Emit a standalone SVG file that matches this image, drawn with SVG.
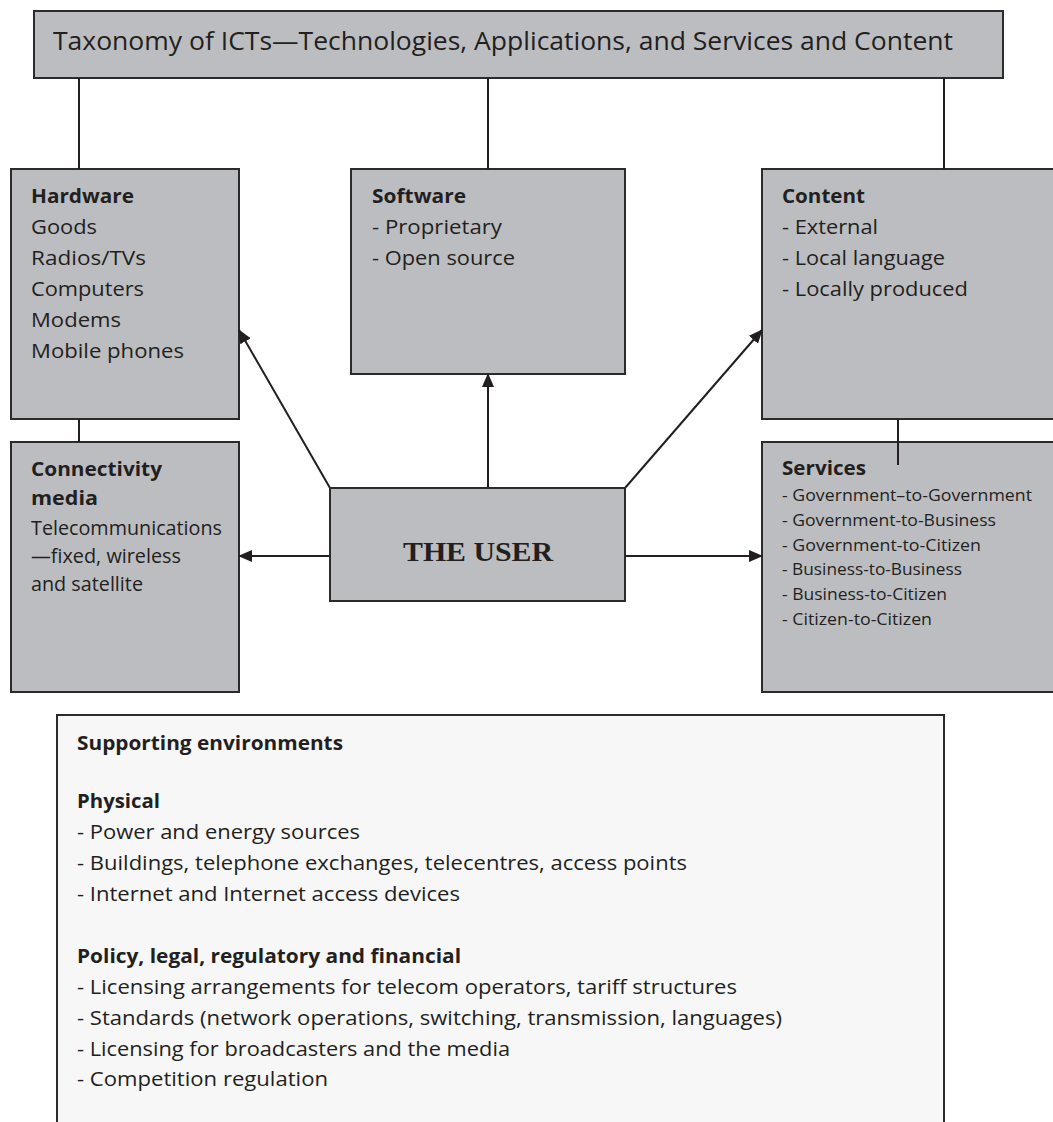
<svg xmlns="http://www.w3.org/2000/svg" width="1053" height="1122" viewBox="0 0 1053 1122">
<style>
.box{fill:#bcbdc0;stroke:#2b2b2b;stroke-width:2}
.env{fill:#f7f7f7;stroke:#2b2b2b;stroke-width:2}
.t{font-family:"Open Sans","Liberation Sans",sans-serif;font-size:20px;fill:#231f20}
.b{font-weight:bold}
.s{font-size:15.5px}
.u{font-family:"Liberation Serif",serif;font-size:28px;font-weight:bold;fill:#231f20}
.ln{stroke:#231f20;stroke-width:2;fill:none}
.ar{stroke:#231f20;stroke-width:2;fill:none;marker-end:url(#ah)}
</style>
<defs>
<marker id="ah" viewBox="0 0 14 12" refX="13" refY="6" markerWidth="14" markerHeight="12" markerUnits="userSpaceOnUse" orient="auto">
<path d="M0,0 L14,6 L0,12 z" fill="#231f20"/>
</marker>
</defs>
<g id="title">
<rect class="box" x="34" y="11" width="969" height="67"/>
<text class="t" x="53" y="50" style="font-size:26px" textLength="900" lengthAdjust="spacingAndGlyphs">Taxonomy of ICTs—Technologies, Applications, and Services and Content</text>
</g>
<g id="hardware">
<rect class="box" x="11" y="169" width="228" height="250"/>
<text class="t b" x="31" y="203" textLength="103" lengthAdjust="spacingAndGlyphs">Hardware</text>
<text class="t" x="31" y="234" textLength="66" lengthAdjust="spacingAndGlyphs">Goods</text>
<text class="t" x="31" y="265" textLength="115" lengthAdjust="spacingAndGlyphs">Radios/TVs</text>
<text class="t" x="31" y="296" textLength="113" lengthAdjust="spacingAndGlyphs">Computers</text>
<text class="t" x="31" y="327" textLength="90" lengthAdjust="spacingAndGlyphs">Modems</text>
<text class="t" x="31" y="358" textLength="153" lengthAdjust="spacingAndGlyphs">Mobile phones</text>
</g>
<g id="software">
<rect class="box" x="351" y="169" width="274" height="205"/>
<text class="t b" x="372" y="203" textLength="94" lengthAdjust="spacingAndGlyphs">Software</text>
<text class="t" x="372" y="234" textLength="130" lengthAdjust="spacingAndGlyphs">- Proprietary</text>
<text class="t" x="372" y="265" textLength="143" lengthAdjust="spacingAndGlyphs">- Open source</text>
</g>
<g id="content">
<rect class="box" x="762" y="169" width="300" height="250"/>
<text class="t b" x="782" y="203" textLength="83" lengthAdjust="spacingAndGlyphs">Content</text>
<text class="t" x="782" y="234" textLength="96" lengthAdjust="spacingAndGlyphs">- External</text>
<text class="t" x="782" y="265" textLength="163" lengthAdjust="spacingAndGlyphs">- Local language</text>
<text class="t" x="782" y="296" textLength="186" lengthAdjust="spacingAndGlyphs">- Locally produced</text>
</g>
<g id="connectivity">
<rect class="box" x="11" y="442" width="228" height="250"/>
<text class="t b" x="31" y="476" textLength="131" lengthAdjust="spacingAndGlyphs">Connectivity</text>
<text class="t b" x="31" y="505" textLength="67" lengthAdjust="spacingAndGlyphs">media</text>
<text class="t" x="31" y="535" textLength="191" lengthAdjust="spacingAndGlyphs">Telecommunications</text>
<text class="t" x="31" y="563" textLength="150" lengthAdjust="spacingAndGlyphs">—fixed, wireless</text>
<text class="t" x="31" y="591" textLength="112" lengthAdjust="spacingAndGlyphs">and satellite</text>
</g>
<g id="services">
<rect class="box" x="762" y="442" width="300" height="250"/>
<text class="t b" x="782" y="475" textLength="84" lengthAdjust="spacingAndGlyphs">Services</text>
<text class="t s" x="782" y="501" textLength="250" lengthAdjust="spacingAndGlyphs">- Government–to-Government</text>
<text class="t s" x="782" y="526" textLength="214" lengthAdjust="spacingAndGlyphs">- Government-to-Business</text>
<text class="t s" x="782" y="551" textLength="199" lengthAdjust="spacingAndGlyphs">- Government-to-Citizen</text>
<text class="t s" x="782" y="575" textLength="180" lengthAdjust="spacingAndGlyphs">- Business-to-Business</text>
<text class="t s" x="782" y="600" textLength="165" lengthAdjust="spacingAndGlyphs">- Business-to-Citizen</text>
<text class="t s" x="782" y="625" textLength="150" lengthAdjust="spacingAndGlyphs">- Citizen-to-Citizen</text>
</g>
<g id="connectors">
<line class="ln" x1="79" y1="78" x2="79" y2="169"/>
<line class="ln" x1="488" y1="78" x2="488" y2="169"/>
<line class="ln" x1="944" y1="78" x2="944" y2="169"/>
<line class="ln" x1="79" y1="419" x2="79" y2="442"/>
<line class="ln" x1="898" y1="419" x2="898" y2="465"/>
<line class="ar" x1="330" y1="488" x2="239" y2="330"/>
<line class="ar" x1="488" y1="488" x2="488" y2="374"/>
<line class="ar" x1="625" y1="488" x2="762" y2="330"/>
<line class="ar" x1="330" y1="556" x2="239" y2="556"/>
<line class="ar" x1="625" y1="556" x2="762" y2="556"/>
</g>
<g id="user">
<rect class="box" x="330" y="488" width="295" height="113"/>
<text class="u" x="478" y="561" text-anchor="middle" textLength="150" lengthAdjust="spacingAndGlyphs">THE USER</text>
</g>
<g id="environments">
<rect class="env" x="57" y="715" width="887" height="420"/>
<text class="t b" x="77" y="750" textLength="266" lengthAdjust="spacingAndGlyphs">Supporting environments</text>
<text class="t b" x="77" y="808" textLength="83" lengthAdjust="spacingAndGlyphs">Physical</text>
<text class="t" x="77" y="839" textLength="283" lengthAdjust="spacingAndGlyphs">- Power and energy sources</text>
<text class="t" x="77" y="870" textLength="610" lengthAdjust="spacingAndGlyphs">- Buildings, telephone exchanges, telecentres, access points</text>
<text class="t" x="77" y="901" textLength="383" lengthAdjust="spacingAndGlyphs">- Internet and Internet access devices</text>
<text class="t b" x="77" y="963" textLength="384" lengthAdjust="spacingAndGlyphs">Policy, legal, regulatory and financial</text>
<text class="t" x="77" y="994" textLength="660" lengthAdjust="spacingAndGlyphs">- Licensing arrangements for telecom operators, tariff structures</text>
<text class="t" x="77" y="1025" textLength="705" lengthAdjust="spacingAndGlyphs">- Standards (network operations, switching, transmission, languages)</text>
<text class="t" x="77" y="1056" textLength="433" lengthAdjust="spacingAndGlyphs">- Licensing for broadcasters and the media</text>
<text class="t" x="77" y="1086" textLength="251" lengthAdjust="spacingAndGlyphs">- Competition regulation</text>
</g>
</svg>
